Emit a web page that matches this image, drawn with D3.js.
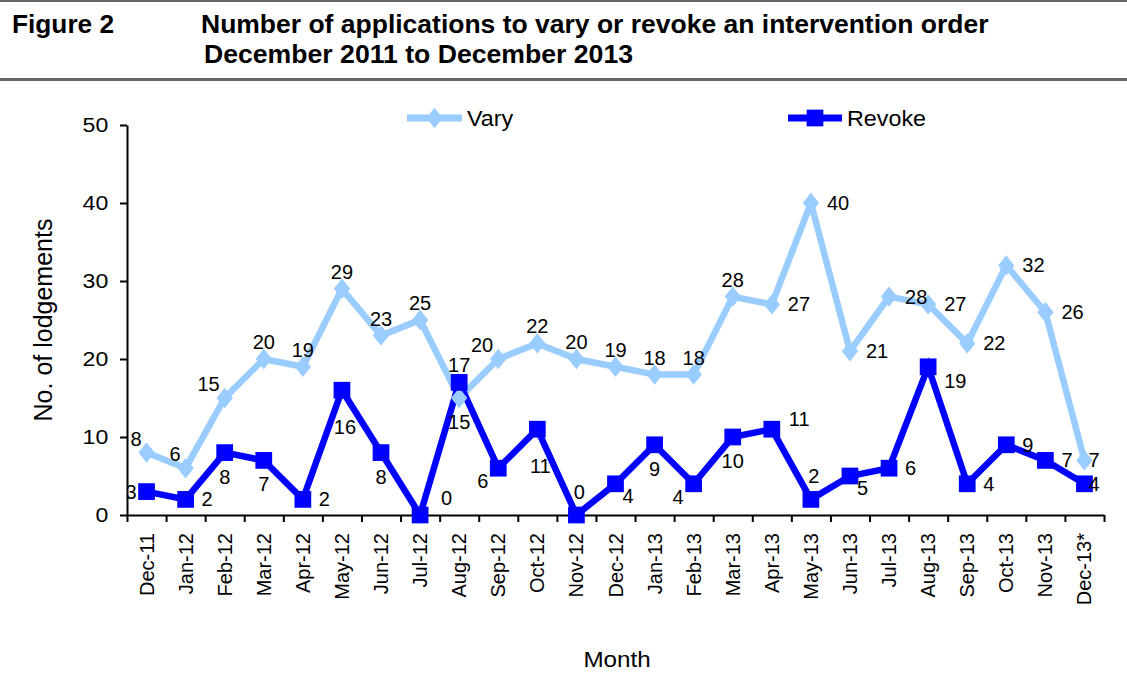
<!DOCTYPE html>
<html>
<head>
<meta charset="utf-8">
<script src="https://cdn.jsdelivr.net/npm/d3@7"></script>
<style>
  html, body { margin: 0; padding: 0; background: #fff; }
  svg { display: block; font-family: "Liberation Sans", Arial, sans-serif; }
</style>
</head>
<body>
<svg id="chart" width="1127" height="680"></svg>
<script>
// Monthly lodgements, December 2011 to December 2013
const months = ["Dec-11","Jan-12","Feb-12","Mar-12","Apr-12","May-12","Jun-12","Jul-12","Aug-12",
  "Sep-12","Oct-12","Nov-12","Dec-12","Jan-13","Feb-13","Mar-13","Apr-13","May-13","Jun-13",
  "Jul-13","Aug-13","Sep-13","Oct-13","Nov-13","Dec-13*"];
const vary   = [8,6,15,20,19,29,23,25,15,20,22,20,19,18,18,28,27,40,21,28,27,22,32,26,7];
const revoke = [3,2,8,7,2,16,8,0,17,6,11,0,4,9,4,10,11,2,5,6,19,4,9,7,4];
const yTicks = [0,10,20,30,40,50];

// where each value label sits around its marker
const varyLabelSide   = ["tl","tl","tl","t","t","t","t","t","b","tl","t","t","t","t","t","t",
  "r","r","r","r","r","r","r","r","c"];
const revokeLabelSide = ["l","r","b","b","r","b2","b","tr","t","bl","b2","t2","br","b","bl","b",
  "rt","t2","br","r","rb","r","r","r","c"];

(function () {
const sideOffset = {
  t:  {a:"middle", dx:0,   dy:-17},
  t2: {a:"middle", dx:3,   dy:-23},
  b:  {a:"middle", dx:0,   dy:24},
  b2: {a:"middle", dx:3,   dy:37},
  tl: {a:"end",    dx:-5,  dy:-14},
  l:  {a:"end",    dx:-10, dy:0},
  bl: {a:"end",    dx:-10, dy:13},
  r:  {a:"start",  dx:16,  dy:0},
  rt: {a:"start",  dx:17,  dy:-10},
  tr: {a:"start",  dx:21,  dy:-17},
  br: {a:"start",  dx:7,   dy:12},
  rb: {a:"start",  dx:16,  dy:14},
  c:  {a:"start",  dx:4,   dy:0}
};

const VARY_COLOR = "#99CCFF";
const REVOKE_COLOR = "#0000FF";

const svg = d3.select("#chart");

// horizontal text with a slightly widened typeface
function wideText(parent, x, y, str, size, sx, opts = {}) {
  const t = parent.append("text")
    .attr("transform", `translate(${x},${y}) scale(${sx},1)`)
    .attr("font-size", size)
    .text(str);
  if (opts.bold) t.attr("font-weight", "bold");
  if (opts.anchor) t.attr("text-anchor", opts.anchor);
  if (opts.central) t.attr("dominant-baseline", "central");
  return t;
}

// ---- header ----
svg.append("rect").attr("x",0).attr("y",0).attr("width",1127).attr("height",2).attr("fill","#666");
svg.append("rect").attr("x",0).attr("y",78).attr("width",1127).attr("height",3).attr("fill","#666");
wideText(svg, 12, 33, "Figure 2", 25, 1.05, {bold:true});
wideText(svg, 201, 33, "Number of applications to vary or revoke an intervention order", 25, 1.06, {bold:true});
wideText(svg, 204, 63, "December 2011 to December 2013", 25, 1.065, {bold:true});

// ---- scales ----
const plotLeft = 127, plotRight = 1104, plotTop = 125, plotBottom = 515;
const x = d3.scaleBand().domain(months).range([plotLeft, plotRight]).padding(0);
const cx = m => x(m) + x.bandwidth() / 2;
const y = d3.scaleLinear().domain([0, 50]).range([plotBottom, plotTop]);

// ---- axes ----
const yAxis = svg.append("g").attr("transform", `translate(${plotLeft},0)`)
  .call(d3.axisLeft(y).tickValues(yTicks).tickSize(7).tickPadding(10).tickSizeOuter(0));
yAxis.select(".domain").attr("stroke","#000").attr("stroke-width",2);
yAxis.selectAll(".tick line").attr("stroke","#000").attr("stroke-width",2);
yAxis.selectAll(".tick text").attr("font-size",21).attr("fill","#000")
  .attr("font-family","Liberation Sans, Arial, sans-serif")
  .attr("transform","scale(1.1,1)");

// ticks on the category boundaries
const xb = d3.scaleLinear().domain([0, months.length]).range([plotLeft, plotRight]);
const xTickAxis = svg.append("g").attr("transform", `translate(0,${plotBottom})`)
  .call(d3.axisBottom(xb).tickValues(d3.range(months.length + 1)).tickSize(7)
    .tickFormat("").tickSizeOuter(0));
xTickAxis.select(".domain").attr("stroke","#000").attr("stroke-width",2);
xTickAxis.selectAll(".tick line").attr("stroke","#000").attr("stroke-width",2);

// rotated month labels centred on each category
const xLabelAxis = svg.append("g").attr("transform", `translate(0,${plotBottom})`)
  .call(d3.axisBottom(x).tickSize(0).tickPadding(0));
xLabelAxis.select(".domain").remove();
xLabelAxis.selectAll(".tick text")
  .attr("font-size",20).attr("fill","#000")
  .attr("font-family","Liberation Sans, Arial, sans-serif")
  .attr("transform","rotate(-90)")
  .attr("text-anchor","end")
  .attr("dy",null)
  .attr("y",0).attr("x",-18)
  .attr("dominant-baseline","central");

// axis titles
svg.append("text").attr("transform","translate(52,320) rotate(-90)")
  .attr("text-anchor","middle").attr("font-size",25).text("No. of lodgements");
wideText(svg, 617, 667, "Month", 22, 1.1, {anchor:"middle"});

// ---- series ----
const line = d3.line().x((d,i) => cx(months[i])).y(d => y(d));
const plot = svg.append("g");

plot.append("path").datum(vary).attr("d", line).attr("fill","none")
  .attr("stroke",VARY_COLOR).attr("stroke-width",6.5).attr("stroke-linejoin","miter");
plot.append("path").datum(revoke).attr("d", line).attr("fill","none")
  .attr("stroke",REVOKE_COLOR).attr("stroke-width",6.5).attr("stroke-linejoin","miter");

const diamond = d3.symbol().type(d3.symbolDiamond2).size(170);
const square = d3.symbol().type(d3.symbolSquare).size(280);

plot.selectAll(".vary-pt").data(vary).join("path").attr("class","vary-pt")
  .attr("d", diamond)
  .attr("transform", (d,i) => `translate(${cx(months[i])},${y(d)}) scale(1,1.25)`)
  .attr("fill",VARY_COLOR);
plot.selectAll(".rev-pt").data(revoke).join("path").attr("class","rev-pt")
  .attr("d", square)
  .attr("transform", (d,i) => `translate(${cx(months[i])},${y(d)})`)
  .attr("fill",REVOKE_COLOR);

// value labels
function addLabels(values, sides) {
  svg.append("g").selectAll("text").data(values).join("text")
    .each(function(d, i) {
      const o = sideOffset[sides[i]];
      d3.select(this)
        .attr("x", cx(months[i]) + o.dx)
        .attr("y", y(d) + o.dy)
        .attr("text-anchor", o.a);
    })
    .attr("dominant-baseline","central")
    .attr("font-size",20).attr("fill","#000")
    .text(d => d);
}
addLabels(vary, varyLabelSide);
addLabels(revoke, revokeLabelSide);

// ---- legend ----
const legend = svg.append("g");
const legendItems = [
  {name:"Vary",   color:VARY_COLOR,   sym:"diamond", x0:407, x1:462},
  {name:"Revoke", color:REVOKE_COLOR, sym:"square",  x0:788, x1:842}
];
legendItems.forEach(it => {
  const ly = 118;
  legend.append("line").attr("x1",it.x0).attr("x2",it.x1).attr("y1",ly).attr("y2",ly)
    .attr("stroke",it.color).attr("stroke-width",7);
  const mx = (it.x0 + it.x1) / 2;
  legend.append("path")
    .attr("d", it.sym === "diamond" ? diamond : square)
    .attr("transform", it.sym === "diamond" ? `translate(${mx},${ly}) scale(1,1.25)` : `translate(${mx},${ly})`)
    .attr("fill", it.color);
  wideText(legend, it.x1 + 5, ly, it.name, 22, 1.06, {central:true});
});
})();
</script>
</body>
</html>
